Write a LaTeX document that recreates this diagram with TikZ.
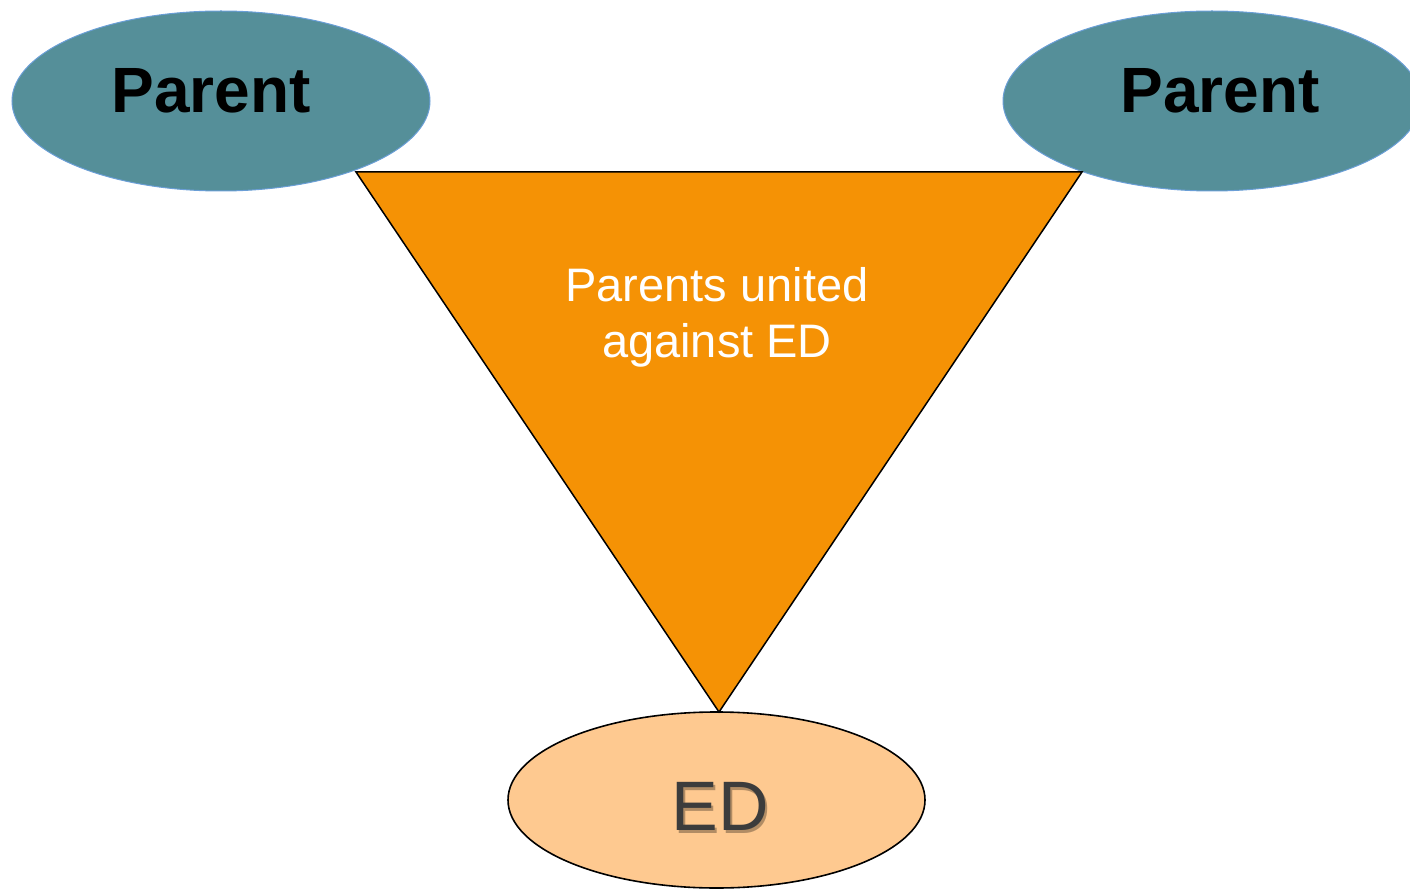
\documentclass[tikz,border=0pt]{standalone}
\usepackage{fontspec}
\setmainfont{Liberation Sans}
\usetikzlibrary{shapes.geometric}
\definecolor{teal1}{HTML}{558F99}
\definecolor{tealedge}{HTML}{6A9ED6}
\definecolor{orange1}{HTML}{F59205}
\definecolor{peach}{HTML}{FEC990}
\definecolor{edtext}{HTML}{3C3C3C}
\tikzset{
  parentell/.style={ellipse, fill=teal1, draw=tealedge, line width=1pt, minimum width=418pt, minimum height=180pt, inner sep=0pt},
  edell/.style={ellipse, fill=peach, draw=black, line width=1.6pt, minimum width=417pt, minimum height=176pt, inner sep=0pt},
  parenttxt/.style={anchor=base, font=\fontsize{64}{70}\selectfont\bfseries, text=black},
  tri/.style={fill=orange1, draw=black, line width=1.5pt, line join=miter},
}
\begin{document}
\begin{tikzpicture}[x=1pt,y=-1pt]
\useasboundingbox (0,0) rectangle (1410,890);
\node[parentell] (p1) at (221,101) {};
\node[parentell] (p2) at (1212,101) {};
\node[parenttxt] (p1t) at (211,113) {Parent};
\node[parenttxt] (p2t) at (1220,113) {Parent};
\node[edell] (ed) at (716.5,800) {};
\coordinate (ta) at (356,172);
\coordinate (tb) at (1082,172);
\coordinate (tc) at (719,712);
\draw[tri] (ta) -- (tb) -- (tc) -- cycle;
\node[anchor=base, align=center, text=white, font=\fontsize{47}{55}\selectfont] (u) at (717,357) {Parents united\\against ED};
\node[anchor=base, text=black, opacity=0.3, font=\fontsize{70}{75}\selectfont] (eds) at (722.5,833) {ED};
\node[anchor=base, text=edtext, font=\fontsize{70}{75}\selectfont] (edt) at (720,830) {ED};
\end{tikzpicture}
\end{document}
